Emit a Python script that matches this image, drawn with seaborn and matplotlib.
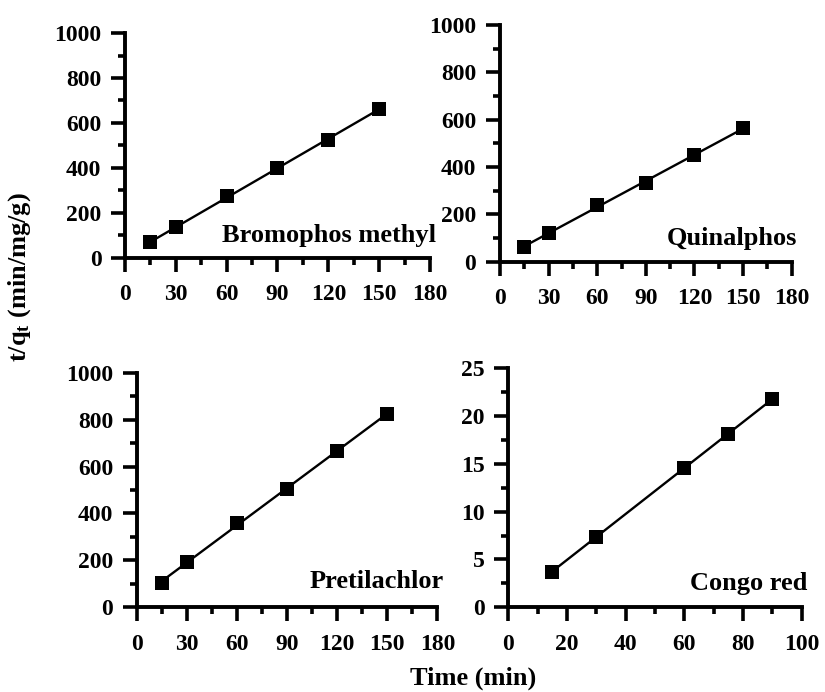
import matplotlib
matplotlib.use("Agg")
import matplotlib.pyplot as plt
import matplotlib.ticker as mtick
import seaborn as sns
import pandas as pd

# pseudo-second-order plots, t/qt vs time
TIME_PEST = [15, 30, 60, 90, 120, 150]
BROMOPHOS = [69, 136, 274, 400, 526, 662]
QUINALPHOS = [63, 120, 240, 334, 451, 564]
PRETILACHLOR = [102, 195, 361, 503, 668, 824]
TIME_DYE = [15, 30, 60, 75, 90]
CONGO_RED = [3.73, 7.39, 14.6, 18.1, 21.8]

NAMES = ["Bromophos methyl", "Quinalphos", "Pretilachlor", "Congo red"]

sns.set_theme(style="ticks")
plt.rcParams["font.family"] = ["Liberation Serif", "DejaVu Serif"]
plt.rcParams["font.weight"] = "bold"
plt.rcParams["text.color"] = "black"
plt.rcParams["xtick.labelcolor"] = "black"
plt.rcParams["ytick.labelcolor"] = "black"
plt.rcParams["mathtext.fontset"] = "custom"
plt.rcParams["mathtext.rm"] = "Liberation Serif:bold"
plt.rcParams["mathtext.it"] = "Liberation Serif:bold"

panels = [
    (NAMES[0], TIME_PEST, BROMOPHOS, [0.1515, 0.6272, 0.3697, 0.3251], (180, 30, 15), (1000, 200, 100), 0.098),
    (NAMES[1], TIME_PEST, QUINALPHOS, [0.606, 0.6218, 0.3536, 0.342], (180, 30, 15), (1000, 200, 100), 0.096),
    (NAMES[2], TIME_PEST, PRETILACHLOR, [0.1657, 0.1224, 0.3646, 0.339], (180, 30, 15), (1000, 200, 100), 0.109),
    (NAMES[3], TIME_DYE, CONGO_RED, [0.6161, 0.1224, 0.3556, 0.3454], (100, 20, 10), (25, 5, 2.5), 0.10),
]

fig = plt.figure(figsize=(8.25, 6.92), dpi=100)

for name, t, y, pos, xt, yt, ty in panels:
    ax = fig.add_axes(pos)
    df = pd.DataFrame({"t": t, "y": y})
    sns.regplot(data=df, x="t", y="y", ax=ax, ci=None, color="black", marker="s",
                scatter_kws={"s": 100, "alpha": 1, "zorder": 3, "linewidths": 0},
                line_kws={"linewidth": 1.7})
    ax.set_xlim(0, xt[0])
    ax.set_ylim(0, yt[0])
    ax.xaxis.set_major_locator(mtick.MultipleLocator(xt[1]))
    ax.xaxis.set_minor_locator(mtick.MultipleLocator(xt[2]))
    ax.yaxis.set_major_locator(mtick.MultipleLocator(yt[1]))
    ax.yaxis.set_minor_locator(mtick.MultipleLocator(yt[2]))
    ax.yaxis.set_major_formatter(mtick.FuncFormatter(lambda v, _: f"{v:g}"))
    ax.set_xlabel("")
    ax.set_ylabel("")
    sns.despine(ax=ax)
    for s in ("left", "bottom"):
        ax.spines[s].set_linewidth(2.8)
        ax.spines[s].set_color("black")
    ax.tick_params(which="major", direction="out", length=10, width=2.6,
                   labelsize=17, color="black")
    ax.tick_params(axis="x", which="major", pad=9)
    ax.tick_params(axis="y", which="major", pad=7)
    ax.tick_params(which="minor", direction="out", length=5, width=2.6, color="black")
    for lab in ax.get_xticklabels() + ax.get_yticklabels():
        lab.set_fontweight("bold")
    ax.text(1.02, ty, name, transform=ax.transAxes, ha="right", va="center",
            fontsize=19, fontweight="bold")
    ax.set_facecolor("white")

fig.text(0.024, 0.60, "t/q$_\\mathrm{t}$ (min/mg/g)", rotation=90, ha="center", va="center",
         fontsize=19, fontweight="bold")
fig.text(0.574, 0.02, "Time (min)", ha="center", va="center", fontsize=19, fontweight="bold")

fig.savefig("out.png", dpi=100, facecolor="white")
